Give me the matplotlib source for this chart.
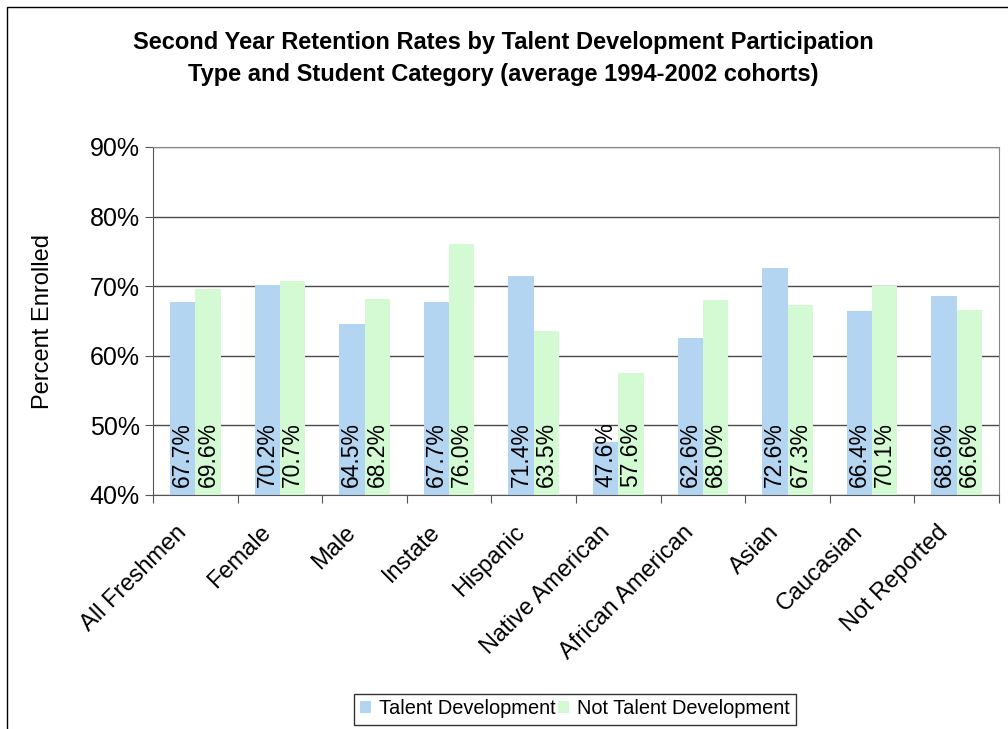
import matplotlib
matplotlib.use("Agg")
import matplotlib.pyplot as plt
from matplotlib.patches import Rectangle
from matplotlib.transforms import ScaledTranslation
import numpy as np

plt.rcParams['font.family'] = ['Liberation Sans', 'DejaVu Sans']

categories = ["All Freshmen", "Female", "Male", "Instate", "Hispanic",
              "Native American", "African American", "Asian", "Caucasian",
              "Not Reported"]
talent_dev = [67.7, 70.2, 64.5, 67.7, 71.4, 47.6, 62.6, 72.6, 66.4, 68.6]
not_talent_dev = [69.6, 70.7, 68.2, 76.0, 63.5, 57.6, 68.0, 67.3, 70.1, 66.6]
yticks = [40, 50, 60, 70, 80, 90]

blue = "#B4D5F2"
green = "#D3FAD3"

W, H = 1008, 729
fig = plt.figure(figsize=(W / 100, H / 100), dpi=100)

# outer chart frame
fig.patches.append(Rectangle((7 / W, -0.05), 1.1, (H - 7) / H + 0.05,
                             transform=fig.transFigure, fill=False,
                             edgecolor="black", linewidth=1.0))

ax = fig.add_axes([153 / W, 1 - 495 / H, (999 - 153) / W, (495 - 147) / H])

x = np.arange(len(categories))
bw = 0.3
b1 = ax.bar(x - bw / 2, talent_dev, bw, color=blue, label="Talent Development",
            zorder=2)
b2 = ax.bar(x + bw / 2, not_talent_dev, bw, color=green,
            label="Not Talent Development", zorder=2)

for xs, vals in ((x - bw / 2, talent_dev), (x + bw / 2, not_talent_dev)):
    for xi, v in zip(xs, vals):
        ax.text(xi, 41.15, f"{v:.1f}%", rotation=90, ha="center",
                va="bottom", fontsize=16.5, zorder=3)

ax.set_xlim(-0.5, len(categories) - 0.5)
ax.set_ylim(40, 90)
ax.set_yticks(yticks)
ax.set_yticklabels([f"{t}%" for t in yticks], fontsize=18)
ax.yaxis.grid(True, color="#4a4a4a", linewidth=1.0, zorder=1)
ax.set_axisbelow(True)

ax.set_xticks(np.arange(len(categories) + 1) - 0.5)
ax.set_xticklabels([])
ax.set_xticks(x, minor=True)
ax.set_xticklabels(categories, minor=True, rotation=45, ha="right",
                   rotation_mode="anchor", fontsize=17)
ax.tick_params(axis="x", which="minor", length=0, pad=6)
ax.tick_params(axis="x", which="major", length=6, direction="out",
               color="#555555")
ax.tick_params(axis="y", length=6, direction="out", color="#555555")

shift = ScaledTranslation(-0.20, -0.18, fig.dpi_scale_trans)
for lbl in ax.get_xticklabels(minor=True):
    lbl.set_transform(lbl.get_transform() + shift)

for side in ("top", "right"):
    ax.spines[side].set_color("#888888")
for side in ("left", "bottom"):
    ax.spines[side].set_color("#555555")

ax.set_ylabel("Percent Enrolled", fontsize=17, labelpad=26)

fig.text(503 / W, 1 - 43 / H,
         "Second Year Retention Rates by Talent Development Participation",
         ha="center", va="center", fontsize=17, fontweight="bold")
fig.text(503 / W, 1 - 75 / H,
         "Type and Student Category (average 1994-2002 cohorts)",
         ha="center", va="center", fontsize=17, fontweight="bold")

leg = fig.legend(handles=[b1, b2], loc="center", ncol=2,
                 bbox_to_anchor=(575 / W, 1 - 709 / H), fontsize=14.4,
                 frameon=True, fancybox=False, edgecolor="black",
                 handlelength=0.55, handleheight=0.55, handletextpad=0.4,
                 columnspacing=0.1, borderpad=0.3, borderaxespad=0)
leg.get_frame().set_linewidth(1.0)

fig.savefig("out.png", dpi=100)
